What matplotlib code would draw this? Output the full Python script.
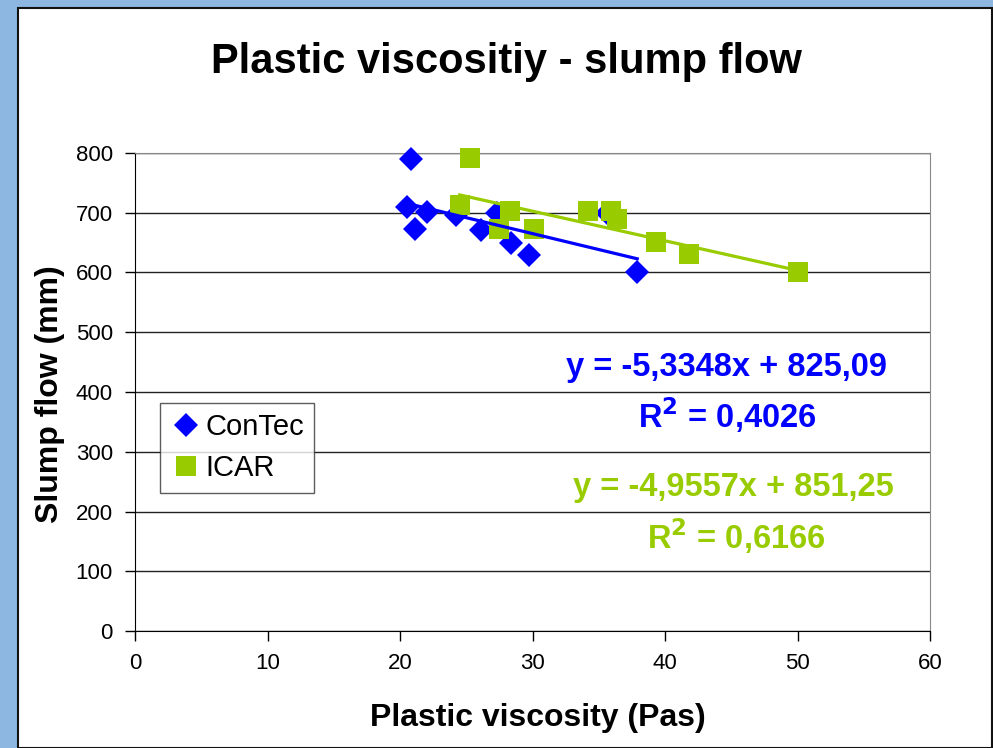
import numpy as np
import matplotlib.pyplot as plt
from matplotlib.patches import Rectangle

plt.rcParams['font.family'] = ['Liberation Sans', 'DejaVu Sans']

# ConTec rheometer
contec_visc = [20.8, 20.5, 21.1, 22.0, 24.2, 26.1, 27.3, 28.4, 29.7, 35.6, 37.9]
contec_slump = [790, 710, 672, 701, 697, 671, 699, 649, 629, 700, 600]
contec_slope, contec_icpt, contec_r2 = -5.3348, 825.09, 0.4026

# ICAR rheometer
icar_visc = [25.3, 24.5, 28.3, 27.5, 30.1, 34.2, 35.9, 36.4, 39.3, 41.8, 50.0]
icar_slump = [792, 713, 703, 672, 673, 703, 703, 690, 651, 631, 600]
icar_slope, icar_icpt, icar_r2 = -4.9557, 851.25, 0.6166

blue = '#0000ff'
green = '#99cc00'

fig = plt.figure(figsize=(9.93, 7.48), dpi=100)
fig.patch.set_facecolor('#8db6e0')
fig.patches.append(Rectangle((17.5 / 993, 0), (992 - 17.5) / 993, 1 - 7.5 / 748,
                             transform=fig.transFigure, facecolor='white',
                             edgecolor='#111111', linewidth=1.5, zorder=-1))

ax = fig.add_axes([0.136, 0.1564, 0.8006, 0.6391])
ax.patch.set_alpha(0)
ax.set_xlim(0, 60)
ax.set_ylim(0, 800)
ax.set_xticks(range(0, 61, 10))
ax.set_yticks(range(0, 801, 100))
ax.yaxis.grid(True, color='#222222', linewidth=1.0)
ax.set_axisbelow(True)
ax.tick_params(labelsize=16, length=7, width=1, direction='out', pad=9)
for side in ('top', 'right'):
    ax.spines[side].set_color('#888888')
for side in ('left', 'bottom'):
    ax.spines[side].set_color('black')

ax.plot(contec_visc, contec_slump, 'D', color=blue, markersize=12,
        markeredgewidth=0, label='ConTec', zorder=3, clip_on=False)
ax.plot(icar_visc, icar_slump, 's', color=green, markersize=14.6,
        markeredgewidth=0, label='ICAR', zorder=4, clip_on=False)

# linear trend lines over each data range
xc = np.array([min(contec_visc), max(contec_visc)])
ax.plot(xc, contec_slope * xc + contec_icpt, color=blue, linewidth=2.3, zorder=5)
xi = np.array([min(icar_visc), max(icar_visc)])
ax.plot(xi, icar_slope * xi + icar_icpt, color=green, linewidth=2.3, zorder=5)


def fmt(v, nd):
    return f'{v:.{nd}f}'.replace('.', ',')


def eq_text(slope, icpt):
    return f'y = {fmt(slope, 4)}x + {fmt(icpt, 2)}'


fig.text(726 / 993, 1 - 367 / 748, eq_text(contec_slope, contec_icpt), color=blue,
         fontsize=23.5, fontweight='bold', ha='center', va='center')
fig.text(727 / 993, 1 - 415 / 748, r'R$^\mathbf{2}$ = ' + fmt(contec_r2, 4), color=blue,
         fontsize=23.5, fontweight='bold', ha='center', va='center')
fig.text(733 / 993, 1 - 487 / 748, eq_text(icar_slope, icar_icpt), color=green,
         fontsize=23.5, fontweight='bold', ha='center', va='center')
fig.text(736 / 993, 1 - 536 / 748, r'R$^\mathbf{2}$ = ' + fmt(icar_r2, 4), color=green,
         fontsize=23.5, fontweight='bold', ha='center', va='center')

leg = ax.legend(loc='upper left', bbox_to_anchor=(25 / 795, 1 - 250 / 478),
                fontsize=21, frameon=True, fancybox=False, borderpad=0.35,
                handletextpad=0.1, handlelength=1.1, labelspacing=0.45,
                borderaxespad=0)
leg.get_frame().set_edgecolor('#333333')
leg.get_frame().set_linewidth(1.0)

fig.text(506 / 993, 1 - 62 / 748, 'Plastic viscositiy - slump flow',
         fontsize=30, fontweight='bold', ha='center', va='center')
fig.text(538 / 993, 1 - 718 / 748, 'Plastic viscosity (Pas)',
         fontsize=23, fontweight='bold', ha='center', va='center')
fig.text(50 / 993, 1 - 394 / 748, 'Slump flow (mm)', rotation=90,
         fontsize=23, fontweight='bold', ha='center', va='center')

fig.savefig('out.png', dpi=100, facecolor=fig.get_facecolor())
